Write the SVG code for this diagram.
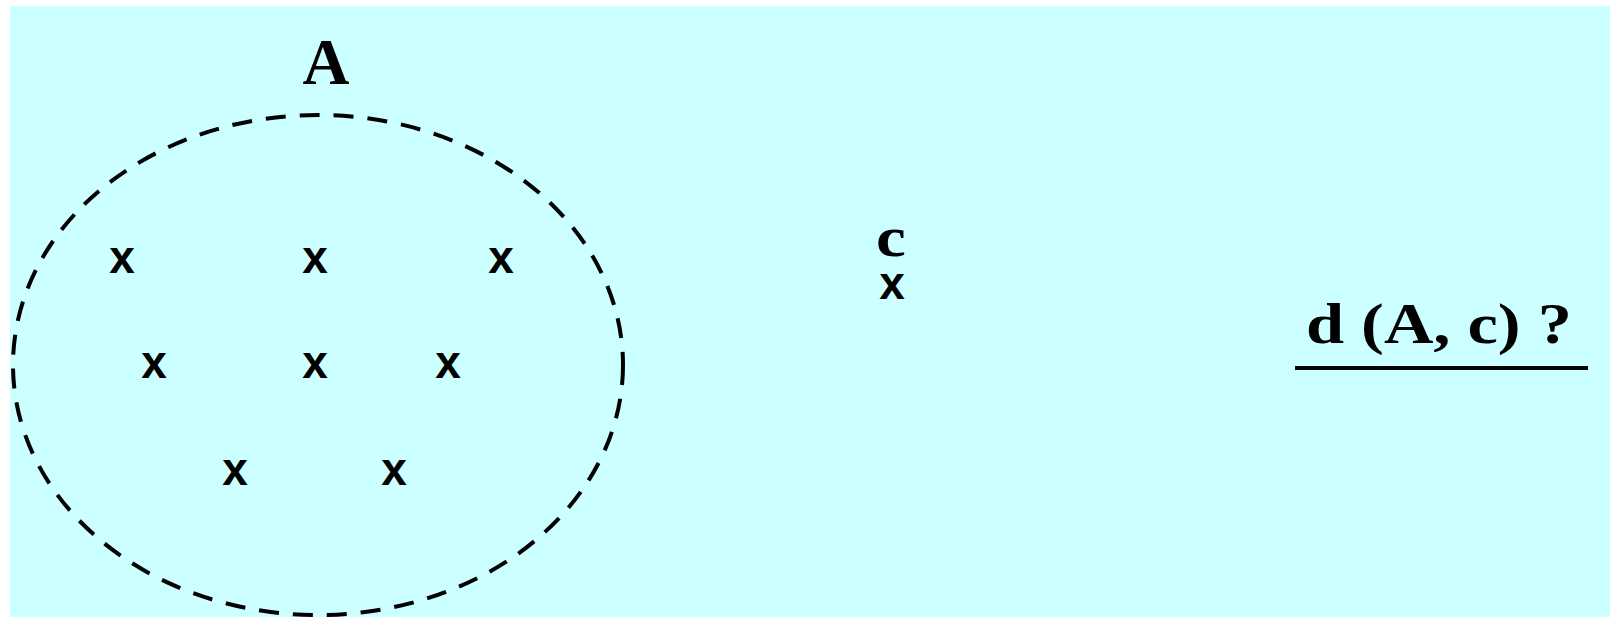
<svg xmlns="http://www.w3.org/2000/svg" width="1610" height="617" viewBox="0 0 1610 617">
<style>
.bg{fill:#ccffff}
.set{fill:none;stroke:#000;stroke-width:4;stroke-dasharray:20 14}
.lbl{font-family:"Liberation Serif","Times New Roman",serif;font-weight:bold;fill:#000}
.pt{font-family:"Liberation Sans",Arial,sans-serif;font-weight:bold;font-size:46px;fill:#000;text-anchor:middle}
</style>
<rect class="bg" x="10" y="6" width="1600" height="611"/>
<g id="setA">
<ellipse class="set" cx="318" cy="365" rx="305" ry="250"/>
<text class="lbl" x="326" y="84" font-size="65" text-anchor="middle">A</text>
<text class="pt" x="122" y="273">x</text>
<text class="pt" x="315" y="273">x</text>
<text class="pt" x="501" y="273">x</text>
<text class="pt" x="154" y="378">x</text>
<text class="pt" x="315" y="378">x</text>
<text class="pt" x="448" y="378">x</text>
<text class="pt" x="235" y="485">x</text>
<text class="pt" x="394" y="485">x</text>
</g>
<g id="pointC">
<text class="lbl" transform="translate(891 256) scale(1.2 1)" x="0" y="0" font-size="56" text-anchor="middle">c</text>
<text class="pt" x="892" y="299">x</text>
</g>
<g id="question">
<text class="lbl" transform="translate(1306 343) scale(1.2 1)" x="0" y="0" font-size="57">d (A, c) ?</text>
<line x1="1295" y1="368" x2="1588" y2="368" stroke="#000" stroke-width="4"/>
</g>
</svg>
